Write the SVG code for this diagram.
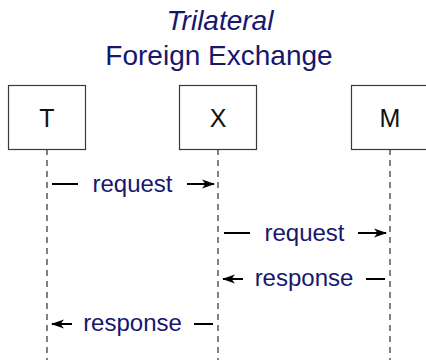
<svg xmlns="http://www.w3.org/2000/svg" width="426" height="360" viewBox="0 0 426 360">
  <style>
    .title { font-family: "Liberation Sans", "DejaVu Sans", sans-serif; font-size: 28px; fill: #17176e; text-anchor: middle; }
    .box { fill: #ffffff; stroke: #3a3a3a; stroke-width: 1.2; }
    .boxlabel { font-family: "Liberation Sans", "DejaVu Sans", sans-serif; font-size: 25px; fill: #111111; text-anchor: middle; }
    .life { stroke: #1a1a1a; stroke-width: 1.1; stroke-dasharray: 6 5; fill: none; }
    .msg { stroke: #000000; stroke-width: 2; fill: none; }
    .arrow { stroke: #000000; stroke-width: 2; fill: none; marker-end: url(#head); }
    .label { font-family: "Liberation Sans", "DejaVu Sans", sans-serif; font-size: 24px; fill: #17176e; text-anchor: middle; }
  </style>
  <defs>
    <!-- stealth-style arrowhead -->
    <marker id="head" viewBox="0 0 13 10" refX="12" refY="5" markerWidth="13" markerHeight="10" markerUnits="userSpaceOnUse" orient="auto" overflow="visible">
      <path d="M0,0.5 L13,5 L0,9.5 L3.5,5 Z" fill="#000000"/>
    </marker>
  </defs>

  <rect width="426" height="360" fill="#ffffff"/>

  <text class="title" x="220" y="30" font-style="italic">Trilateral</text>
  <text class="title" x="219" y="65">Foreign Exchange</text>

  <g id="lifelines">
    <line class="life" x1="47" y1="149" x2="47" y2="360"/>
    <line class="life" x1="218" y1="149" x2="218" y2="360"/>
    <line class="life" x1="390" y1="149" x2="390" y2="360"/>
  </g>

  <g id="node-T">
    <rect class="box" x="8.5" y="85.5" width="77" height="64"/>
    <text class="boxlabel" x="47" y="127">T</text>
  </g>
  <g id="node-X">
    <rect class="box" x="179.5" y="85.5" width="77" height="64"/>
    <text class="boxlabel" x="218" y="127">X</text>
  </g>
  <g id="node-M">
    <rect class="box" x="351.5" y="85.5" width="77" height="64"/>
    <text class="boxlabel" x="390" y="127">M</text>
  </g>

  <g id="connectors">
    <!-- T to X request -->
    <line class="msg" x1="52" y1="184" x2="78" y2="184"/>
    <line class="arrow" x1="187" y1="184" x2="214" y2="184"/>
    <text class="label" x="132.5" y="192">request</text>
    <!-- X to M request -->
    <line class="msg" x1="224" y1="233" x2="250" y2="233"/>
    <line class="arrow" x1="358" y1="233" x2="386" y2="233"/>
    <text class="label" x="304.5" y="241">request</text>
    <!-- M to X response -->
    <line class="arrow" x1="243" y1="279" x2="223" y2="279"/>
    <line class="msg" x1="366" y1="279" x2="385" y2="279"/>
    <text class="label" x="304" y="286">response</text>
    <!-- X to T response -->
    <line class="arrow" x1="72" y1="324" x2="52" y2="324"/>
    <line class="msg" x1="194" y1="324" x2="213" y2="324"/>
    <text class="label" x="132.5" y="331">response</text>
  </g>
</svg>
